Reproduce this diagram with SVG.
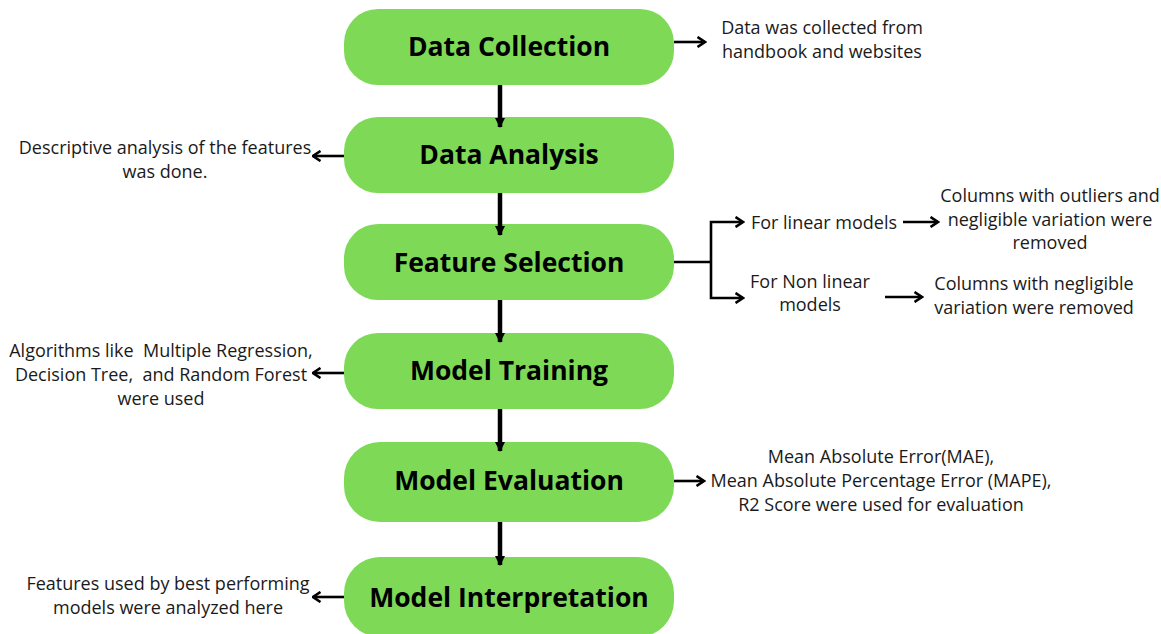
<svg xmlns="http://www.w3.org/2000/svg" width="1161" height="634" viewBox="0 0 1161 634">
  <style>
    .box { fill: #7ED957; }
    .title { font-family: "Open Sans", "Liberation Sans", sans-serif; font-weight: 700; font-size: 26.5px; fill: #000; text-anchor: middle; }
    .note { font-family: "Open Sans", "Liberation Sans", sans-serif; font-size: 18px; fill: #1a1a1a; text-anchor: middle; }
    .flow { stroke: #000; stroke-width: 4.5; fill: none; }
    .side { stroke: #000; stroke-width: 2.6; fill: none; }
  </style>
  <defs>
    <marker id="head" viewBox="0 0 10 10" refX="9" refY="5" markerUnits="userSpaceOnUse" markerWidth="10" markerHeight="17" orient="auto">
      <path d="M0,0 L10,5 L0,10 z" fill="#000"/>
    </marker>
    <marker id="chev" viewBox="0 0 10 12" refX="8.5" refY="6" markerUnits="userSpaceOnUse" markerWidth="10" markerHeight="12" orient="auto">
      <path d="M1,1 L8.5,6 L1,11" fill="none" stroke="#000" stroke-width="2.6" stroke-linejoin="miter"/>
    </marker>
  </defs>

  <!-- main pipeline -->
  <g id="data-collection">
    <rect class="box" x="344" y="9" width="330" height="76" rx="34"/>
    <text class="title" x="509" y="56">Data Collection</text>
  </g>
  <g id="data-analysis">
    <rect class="box" x="344" y="117" width="330" height="76" rx="34"/>
    <text class="title" x="509" y="164">Data Analysis</text>
  </g>
  <g id="feature-selection">
    <rect class="box" x="344" y="224" width="330" height="76" rx="34"/>
    <text class="title" x="509" y="272">Feature Selection</text>
  </g>
  <g id="model-training">
    <rect class="box" x="344" y="333" width="330" height="76" rx="34"/>
    <text class="title" x="509" y="380">Model Training</text>
  </g>
  <g id="model-evaluation">
    <rect class="box" x="344" y="442" width="330" height="80" rx="36"/>
    <text class="title" x="509" y="490">Model Evaluation</text>
  </g>
  <g id="model-interpretation">
    <rect class="box" x="344" y="557" width="330" height="80" rx="36"/>
    <text class="title" x="509" y="607">Model Interpretation</text>
  </g>

  <!-- side notes -->
  <g id="note-collection">
    <text class="note" x="822" y="34">Data was collected from</text>
    <text class="note" x="822" y="58">handbook and websites</text>
  </g>
  <g id="note-analysis">
    <text class="note" x="165" y="154">Descriptive analysis of the features</text>
    <text class="note" x="165" y="178">was done.</text>
  </g>
  <g id="linear-models">
    <text class="note" x="824" y="229">For linear models</text>
  </g>
  <g id="linear-result">
    <text class="note" x="1050" y="202">Columns with outliers and</text>
    <text class="note" x="1050" y="226">negligible variation were</text>
    <text class="note" x="1050" y="249">removed</text>
  </g>
  <g id="nonlinear-models">
    <text class="note" x="810" y="288">For Non linear</text>
    <text class="note" x="810" y="311">models</text>
  </g>
  <g id="nonlinear-result">
    <text class="note" x="1034" y="290">Columns with negligible</text>
    <text class="note" x="1034" y="314">variation were removed</text>
  </g>
  <g id="note-training">
    <text class="note" x="161" y="357" xml:space="preserve">Algorithms like  Multiple Regression,</text>
    <text class="note" x="161" y="381" xml:space="preserve">Decision Tree,  and Random Forest</text>
    <text class="note" x="161" y="405">were used</text>
  </g>
  <g id="note-evaluation">
    <text class="note" x="881" y="463">Mean Absolute Error(MAE),</text>
    <text class="note" x="881" y="487">Mean Absolute Percentage Error (MAPE),</text>
    <text class="note" x="881" y="511">R2 Score were used for evaluation</text>
  </g>
  <g id="note-interpretation">
    <text class="note" x="168" y="590">Features used by best performing</text>
    <text class="note" x="168" y="614">models were analyzed here</text>
  </g>

  <!-- connectors -->
  <g id="connectors">
    <line class="flow" x1="500" y1="85" x2="500" y2="127" marker-end="url(#head)"/>
    <line class="flow" x1="500" y1="193" x2="500" y2="235" marker-end="url(#head)"/>
    <line class="flow" x1="500" y1="300" x2="500" y2="342" marker-end="url(#head)"/>
    <line class="flow" x1="500" y1="409" x2="500" y2="451" marker-end="url(#head)"/>
    <line class="flow" x1="500" y1="522" x2="500" y2="565" marker-end="url(#head)"/>

    <line class="side" x1="674" y1="42" x2="705" y2="42" marker-end="url(#chev)"/>
    <line class="side" x1="344" y1="156" x2="313" y2="156" marker-end="url(#chev)"/>
    <line class="side" x1="344" y1="373" x2="313" y2="373" marker-end="url(#chev)"/>
    <line class="side" x1="674" y1="481" x2="704" y2="481" marker-end="url(#chev)"/>
    <line class="side" x1="344" y1="597" x2="313" y2="597" marker-end="url(#chev)"/>

    <!-- feature selection fork -->
    <line class="side" x1="674" y1="262" x2="711" y2="262"/>
    <path class="side" d="M711,262 V222 H743" marker-end="url(#chev)"/>
    <path class="side" d="M711,262 V298 H743" marker-end="url(#chev)"/>
    <line class="side" x1="903" y1="222" x2="938" y2="222" marker-end="url(#chev)"/>
    <line class="side" x1="885" y1="297" x2="922" y2="297" marker-end="url(#chev)"/>
  </g>
</svg>
